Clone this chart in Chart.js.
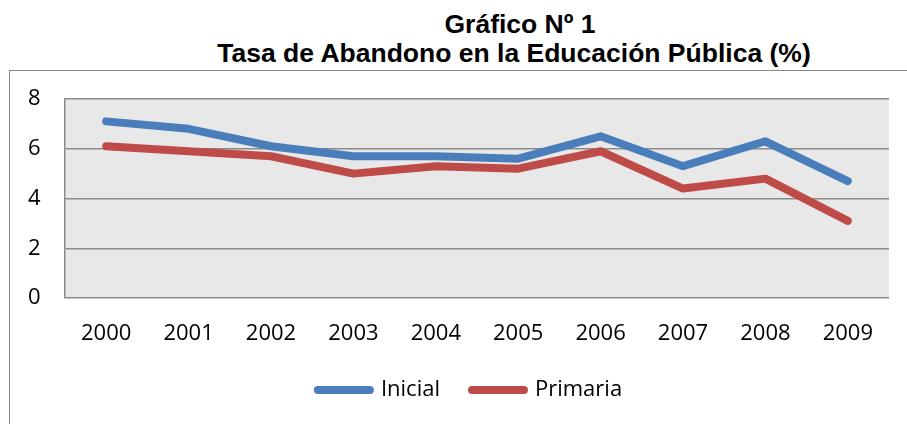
<!DOCTYPE html>
<html>
<head>
<meta charset="utf-8">
<script src="https://cdn.jsdelivr.net/npm/chart.js@4"></script>
<style>
  html, body { margin: 0; padding: 0; background: #fff; overflow: hidden; }
  body { width: 907px; height: 424px; position: relative; }
  .title {
    position: absolute; width: 800px; text-align: center;
    font-family: "Liberation Sans", Arial, sans-serif;
    font-weight: bold; font-size: 26.5px; line-height: 28px; color: #000;
  }
  #t1 { left: 120px; top: 10px; }
  #t2 { left: 114px; top: 38.5px; }
  .frame {
    position: absolute; left: 9px; top: 70px; width: 920px; height: 400px;
    border-left: 1.5px solid #878787; border-top: 1.5px solid #878787;
  }
  #wrap { position: absolute; left: 11px; top: 71px; width: 896px; height: 450px; }
</style>
</head>
<body>
<div class="title" id="t1">Gráfico Nº 1</div>
<div class="title" id="t2">Tasa de Abandono en la Educación Pública (%)</div>
<div class="frame"></div>
<div id="wrap"><canvas id="chart"></canvas></div>
<script>
// chart data
const years    = ['2000','2001','2002','2003','2004','2005','2006','2007','2008','2009'];
const inicial  = [7.1, 6.8, 6.1, 5.7, 5.7, 5.6, 6.5, 5.3, 6.3, 4.7];
const primaria = [6.1, 5.9, 5.7, 5.0, 5.3, 5.2, 5.9, 4.4, 4.8, 3.1];
const yTicks   = [0, 2, 4, 6, 8];

const tickFont = {family: '"Open Sans"', size: 22};

// grey plot background
const plotBg = {
  id: 'plotBg',
  beforeDraw(chart) {
    const a = chart.chartArea, ctx = chart.ctx;
    ctx.save();
    ctx.fillStyle = '#e8e8e8';
    ctx.fillRect(a.left, a.top, a.right - a.left, a.bottom - a.top);
    ctx.restore();
  }
};

const series = (label, data, color) => ({
  label, data,
  borderColor: color, backgroundColor: color,
  pointBorderColor: color, pointBorderWidth: 8,
  borderWidth: 8, tension: 0, pointRadius: 0, pointHoverRadius: 0,
  borderCapStyle: 'round', borderJoinStyle: 'round'
});

new Chart(document.getElementById('chart'), {
  type: 'line',
  data: {
    labels: years,
    datasets: [
      series('Inicial', inicial, '#4a7ebb'),
      series('Primaria', primaria, '#be4b48')
    ]
  },
  options: {
    responsive: true, maintainAspectRatio: false, animation: false,
    layout: {padding: {top: 28, left: 40, right: 18, bottom: 110}},
    plugins: {
      tooltip: {enabled: false},
      legend: {
        position: 'bottom',
        labels: {
          usePointStyle: true, pointStyle: 'line', pointStyleWidth: 52,
          boxHeight: 8, padding: 32, color: '#000', font: tickFont,
          generateLabels: chart => Chart.defaults.plugins.legend.labels.generateLabels(chart)
            .map(l => ({...l, lineCap: 'round', lineWidth: 8}))
        }
      }
    },
    scales: {
      x: {
        offset: true,
        grid: {display: false, drawTicks: false},
        border: {display: false},
        ticks: {color: '#000', font: tickFont, padding: 23, maxRotation: 0},
        afterFit: s => { s.height = 49; s.paddingLeft = 0; s.paddingRight = 0; }
      },
      y: {
        min: yTicks[0], max: yTicks[yTicks.length - 1],
        grid: {color: '#8a8a8a', lineWidth: 1.5, drawTicks: false},
        border: {display: true, color: '#8a8a8a', width: 1.5},
        // mirrored so the labels are not clipped to the narrow axis box
        ticks: {color: '#000', font: tickFont, mirror: true, padding: -37,
                stepSize: yTicks[1] - yTicks[0]},
        afterFit: s => { s.width = 14; s.paddingTop = 0; s.paddingBottom = 0; }
      }
    }
  },
  plugins: [plotBg]
});
</script>
</body>
</html>
